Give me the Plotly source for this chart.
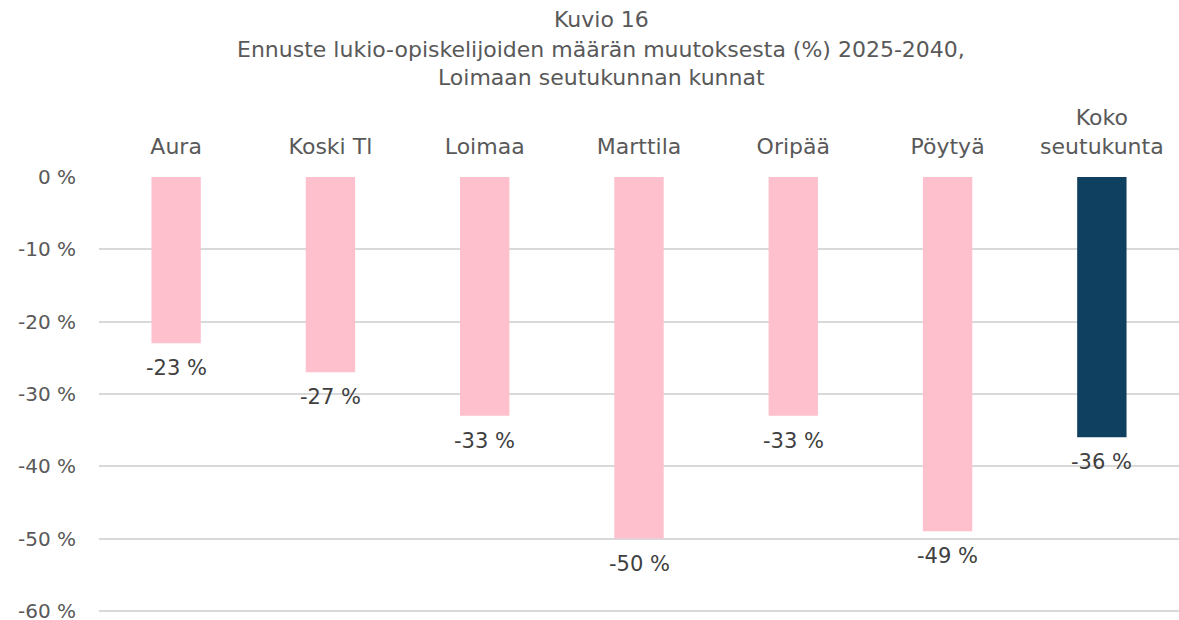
import plotly.graph_objects as go

categories = ["Aura", "Koski Tl", "Loimaa", "Marttila", "Oripää", "Pöytyä", "Koko<br>seutukunta"]
values = [-23, -27, -33, -50, -33, -49, -36]
colors = ["#FFC0CE", "#FFC0CE", "#FFC0CE", "#FFC0CE", "#FFC0CE", "#FFC0CE", "#104060"]
tick_vals = [0, -10, -20, -30, -40, -50, -60]
tick_text = ["0 %", "-10 %", "-20 %", "-30 %", "-40 %", "-50 %", "-60 %"]
title_lines = ["Kuvio 16",
               "Ennuste lukio-opiskelijoiden määrän muutoksesta (%) 2025-2040,",
               "Loimaan seutukunnan kunnat"]

FONT = "DejaVu Sans"

fig = go.Figure(go.Bar(
    x=categories, y=values,
    marker=dict(color=colors, line=dict(width=0)),
    width=0.32,
    hoverinfo="x+y",
))

# value labels below bar ends
for c, v in zip(categories, values):
    fig.add_annotation(x=c, y=v, xref="x", yref="y", text=f"{v} %",
                       showarrow=False, yshift=-25, yanchor="middle",
                       font=dict(family=FONT, size=21, color="#404040"))

# title lines (paper coords: plot top 177px, bottom 611px)
for t, ypx in zip(title_lines, [20, 50, 78]):
    fig.add_annotation(x=(601 - 99) / 1080, y=(611 - ypx) / 434, xref="paper", yref="paper",
                       text=t, showarrow=False, xanchor="center", yanchor="middle",
                       font=dict(family=FONT, size=22, color="#595959"))

fig.update_layout(
    width=1179, height=620,
    margin=dict(l=99, r=0, t=177, b=8, autoexpand=False),
    paper_bgcolor="white", plot_bgcolor="white",
    showlegend=False,
    font=dict(family=FONT, color="#595959"),
    xaxis=dict(
        side="top", showgrid=False, showline=False, zeroline=False,
        ticks="", ticklabelstandoff=18, automargin=False,
        tickfont=dict(family=FONT, size=22, color="#595959"),
    ),
    yaxis=dict(
        range=[-60.15, 0], tickvals=tick_vals, ticktext=tick_text,
        showgrid=True, gridcolor="#D9D9D9", gridwidth=1.5,
        zeroline=False, showline=False, ticks="", ticklabelstandoff=22,
        ticklabeloverflow="allow", automargin=False,
        tickfont=dict(family=FONT, size=20, color="#595959"),
    ),
)

fig.write_html("out.html", config={"displayModeBar": False},
               post_script="document.body.style.margin='0';")
